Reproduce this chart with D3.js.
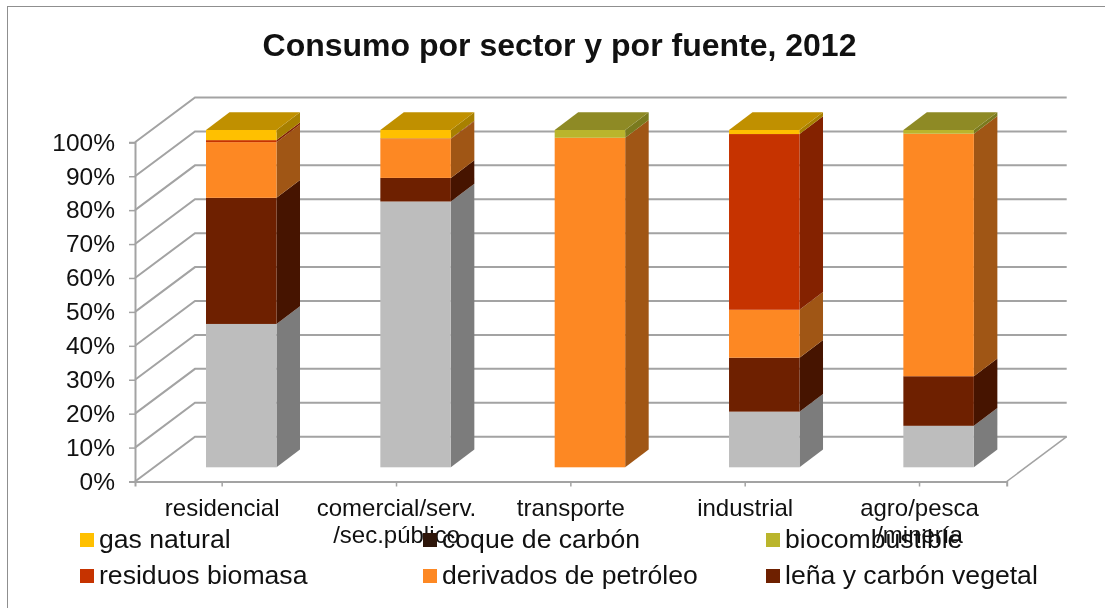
<!DOCTYPE html>
<html><head><meta charset="utf-8">
<script src="https://cdnjs.cloudflare.com/ajax/libs/d3/7.8.5/d3.min.js"></script>
<style>
html,body{margin:0;padding:0;background:#fff}
svg{display:block;filter:blur(0.45px)}
text{font-family:"Liberation Sans",Arial,sans-serif;fill:#111}
</style></head><body>
<svg id="c" width="1105" height="608"></svg>
<script>
const chartTitle = "Consumo por sector y por fuente, 2012";
const categories = ["residencial","comercial/serv. /sec.público","transporte","industrial","agro/pesca /minería"];
const percentTicks = [0,10,20,30,40,50,60,70,80,90,100];
// stacked bottom to top; shares in percent
const electricidad = [42.5,78.8,0,16.5,12.3];
const lena         = [37.4,7.0,0,16.0,14.7];
const derivados    = [16.5,11.5,97.7,14.2,71.9];
const residuos     = [0.6,0.2,0,52.1,0];
const biocomb      = [0,0,2.3,0,1.1];
const coque        = [0,0,0,0,0];
const gas          = [3.0,2.5,0,1.2,0];

const stackSeries = [
  {name:"electricidad",values:electricidad,front:"#bdbdbd",side:"#7c7c7c",cap:"#8e8e8e"},
  {name:"leña y carbón vegetal",values:lena,front:"#6e2000",side:"#461400",cap:"#521800"},
  {name:"derivados de petróleo",values:derivados,front:"#fd8823",side:"#a05615",cap:"#be661a"},
  {name:"residuos biomasa",values:residuos,front:"#c63300",side:"#842200",cap:"#942600"},
  {name:"biocombustible",values:biocomb,front:"#bab52c",side:"#7a7a1e",cap:"#8e8a25"},
  {name:"coque de carbón",values:coque,front:"#2e160a",side:"#1e0e06",cap:"#221008"},
  {name:"gas natural",values:gas,front:"#ffc000",side:"#a88000",cap:"#c09000"}
];
const legendOrder = ["gas natural","coque de carbón","biocombustible","residuos biomasa","derivados de petróleo","leña y carbón vegetal"];

const svg = d3.select("#c");
svg.append("rect").attr("x",7.5).attr("y",6.5).attr("width",1110).attr("height",620)
  .attr("fill","#fff").attr("stroke","#8f8f8f").attr("stroke-width",1);

svg.append("text").attr("x",559.5).attr("y",56).attr("text-anchor","middle")
  .attr("font-size",32).attr("font-weight",700).text(chartTitle);

// scene geometry
const plotLeft=135,plotRight=1006.7,plotBottom=481.5,plotTop=142.3;
const depthX=60,depthY=-44.8;
const y=d3.scaleLinear().domain([0,100]).range([plotBottom,plotTop]);
const x=d3.scaleBand().domain(categories).range([plotLeft,plotRight]);
const barH=d3.scaleLinear().domain([0,100]).range([467.3,130]);
const barOffset=71,barW=70.5,barDX=23.5,barDY=-17.7;
const poly=p=>p.map(q=>q.join(",")).join(" ");

const gridColor="#a3a3a3";
const grid=svg.append("g").attr("fill","none").attr("stroke",gridColor).attr("stroke-width",2);
percentTicks.forEach(t=>{
  const yy=y(t);
  grid.append("polyline").attr("points",poly([[plotLeft,yy],[plotLeft+depthX,yy+depthY],[plotRight+depthX,yy+depthY]]));
});
grid.append("polyline").attr("points",poly([[plotRight,plotBottom],[plotRight+depthX,plotBottom+depthY]])).attr("stroke-width",1.5);

// axes
const yAxis=d3.axisLeft(y).tickValues(percentTicks).tickFormat(d=>d+"%").tickSize(6).tickPadding(14);
const gy=svg.append("g").attr("transform",`translate(${plotLeft},0)`).call(yAxis);
gy.select(".domain").attr("stroke",gridColor).attr("stroke-width",2);
gy.selectAll(".tick line").attr("stroke",gridColor).attr("stroke-width",1.5);
gy.selectAll(".tick text").attr("font-size",24.5).attr("fill","#111").attr("font-family",'"Liberation Sans",Arial,sans-serif');

const xAxis=d3.axisBottom(x).tickSize(5).tickFormat("");
const gx=svg.append("g").attr("transform",`translate(0,${plotBottom})`).call(xAxis);
gx.select(".domain").attr("stroke",gridColor).attr("stroke-width",2);
gx.selectAll(".tick line").attr("stroke",gridColor).attr("stroke-width",1.5);
const xLab=svg.append("g");
categories.forEach(c=>{
  const t=xLab.append("text").attr("text-anchor","middle").attr("font-size",24);
  c.split(" ").forEach((s,i)=>t.append("tspan").attr("x",x(c)+x.bandwidth()/2).attr("y",516+i*27).text(s));
});

// bars
const layers=d3.stack().keys(d3.range(stackSeries.length)).value((c,k)=>stackSeries[k].values[categories.indexOf(c)])(categories);
const barsG=svg.append("g");
categories.forEach(c=>{
  const x0=x(c)+barOffset,x1=x0+barW;
  const g=barsG.append("g");
  layers.forEach((layer,k)=>{
    const d=layer[categories.indexOf(c)];
    if(d[1]-d[0]<=0) return;
    const s=stackSeries[k],y0=barH(d[0]),y1=barH(d[1]);
    g.append("polygon").attr("fill",s.side)
      .attr("points",poly([[x1,y0],[x1+barDX,y0+barDY],[x1+barDX,y1+barDY],[x1,y1]]));
    g.append("rect").attr("x",x0).attr("y",y1).attr("width",barW).attr("height",y0-y1).attr("fill",s.front);
  });
  // cap takes the colour of the top-most non-empty series
  const idx=d3.max(layers.map((l,k)=>l[categories.indexOf(c)][1]-l[categories.indexOf(c)][0]>0?k:-1));
  const yt=barH(100);
  g.append("polygon").attr("fill",stackSeries[idx].cap)
    .attr("points",poly([[x0,yt],[x0+barDX,yt+barDY],[x1+barDX,yt+barDY],[x1,yt]]));
});

// legend
const legendX=[80,423,766],legendY=[540,576];
const legendG=svg.append("g");
legendOrder.forEach((n,i)=>{
  const s=stackSeries.find(e=>e.name===n);
  const lx=legendX[i%3],ly=legendY[Math.floor(i/3)];
  legendG.append("rect").attr("x",lx).attr("y",ly-7).attr("width",14).attr("height",14).attr("fill",s.front);
  legendG.append("text").attr("x",lx+19).attr("y",ly+8).attr("font-size",26.6).text(n);
});
</script></body></html>
